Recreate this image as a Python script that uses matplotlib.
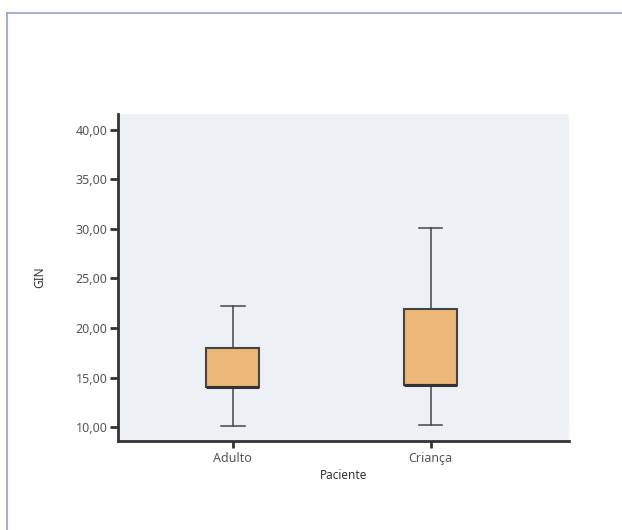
import matplotlib
matplotlib.use("Agg")
import matplotlib.pyplot as plt
from matplotlib.lines import Line2D

categories = ["Adulto", "Criança"]
whisker_low = [10.1, 10.2]
q1 = [14.0, 14.3]
median = [14.0, 14.3]
q3 = [18.0, 21.9]
whisker_high = [22.2, 30.1]
yticks = [10, 15, 20, 25, 30, 35, 40]
ytick_labels = ["10,00", "15,00", "20,00", "25,00", "30,00", "35,00", "40,00"]

plt.rcParams['font.family'] = ['Noto Sans', 'DejaVu Sans']

fig = plt.figure(figsize=(6.22, 5.30), dpi=100)
fig.patch.set_facecolor('white')
# outer frame lines (top and left)
fig.add_artist(Line2D([6.5/622, 1], [1 - 13/530, 1 - 13/530], color='#8EA3C9', lw=1.2, transform=fig.transFigure))
fig.add_artist(Line2D([6.5/622, 6.5/622], [0, 1 - 13/530], color='#8EA3C9', lw=1.2, transform=fig.transFigure))

ax = fig.add_axes([118/622, 1 - 441/530, 451/622, 327/530])
ax.set_facecolor('#EDF0F5')

stats = []
for i, c in enumerate(categories):
    stats.append(dict(label=c, whislo=whisker_low[i], q1=q1[i], med=median[i],
                      q3=q3[i], whishi=whisker_high[i], fliers=[]))
positions = list(range(len(categories)))
ax.bxp(stats, positions=positions, widths=0.27, patch_artist=True, showfliers=False,
       boxprops=dict(facecolor='#EBB87A', edgecolor='#444444', linewidth=1.5),
       medianprops=dict(color='#333333', linewidth=2.2),
       whiskerprops=dict(color='#444444', linewidth=1.1),
       capprops=dict(color='#444444', linewidth=1.1),
       capwidths=0.12)

ax.set_xlim(-0.58, 1.70)
ax.set_ylim(8.6, 41.6)
ax.set_yticks(yticks)
ax.set_yticklabels(ytick_labels)
ax.set_xticks(positions)
ax.set_xticklabels(categories)

for s in ['top', 'right']:
    ax.spines[s].set_visible(False)
for s in ['left', 'bottom']:
    ax.spines[s].set_color('#333333')
    ax.spines[s].set_linewidth(2)
ax.tick_params(axis='both', colors='#333333', width=2, length=6, labelsize=9, labelcolor='#555555', pad=1.5)
ax.tick_params(axis='x', length=5, pad=3)

ax.set_xlabel('Paciente', fontsize=8.5, color='#333333', fontweight='semibold', labelpad=3)
ax.set_ylabel('GIN', fontsize=8.5, color='#333333', fontweight='bold', labelpad=21)

fig.savefig('out.png', dpi=100)
